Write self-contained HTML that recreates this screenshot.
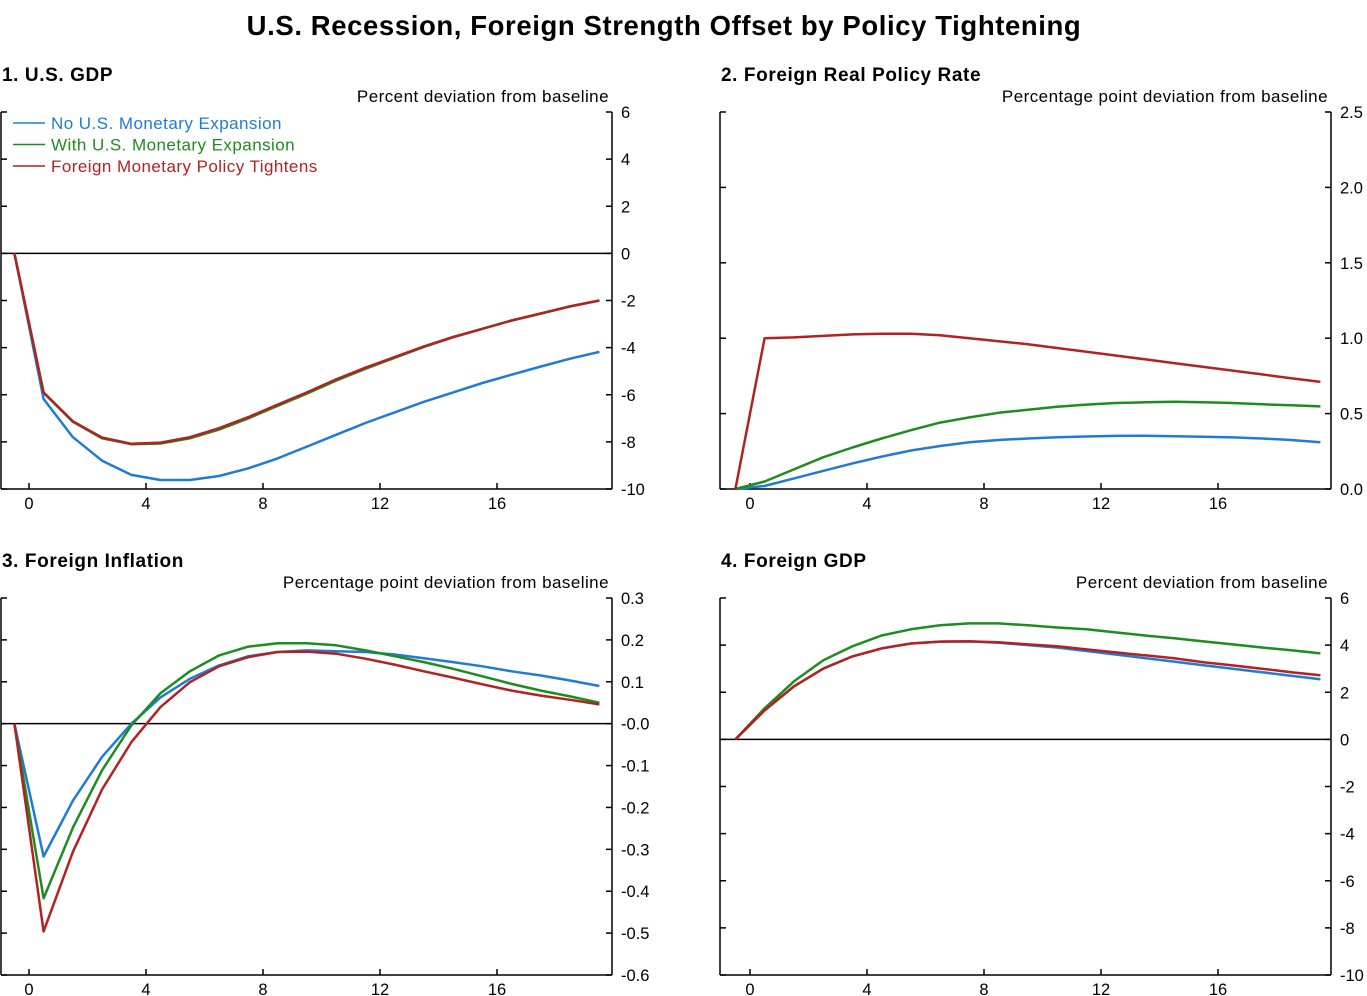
<!DOCTYPE html>
<html><head><meta charset="utf-8"><style>
html,body{margin:0;padding:0;background:#fff;}
svg{display:block;font-family:"Liberation Sans",Arial,sans-serif;}
</style></head><body>
<svg id="chart" width="1367" height="996" viewBox="0 0 1367 996">
<text x="664" y="35" text-anchor="middle" font-size="27.5" font-weight="bold" letter-spacing="0.6">U.S. Recession, Foreign Strength Offset by Policy Tightening</text>
</svg>
<script>
const periods = [-0.5,0.5,1.5,2.5,3.5,4.5,5.5,6.5,7.5,8.5,9.5,10.5,11.5,12.5,13.5,14.5,15.5,16.5,17.5,18.5,19.5];
const xTicks = [0,4,8,12,16];
const seriesNames = ["No U.S. Monetary Expansion","With U.S. Monetary Expansion","Foreign Monetary Policy Tightens"];
const seriesColors = ["#1f7bd6","#1e8c1e","#b22222"];

const gdpUS_blue = [0,-6.18,-7.8,-8.8,-9.4,-9.62,-9.62,-9.45,-9.12,-8.7,-8.2,-7.7,-7.2,-6.75,-6.3,-5.9,-5.5,-5.15,-4.8,-4.47,-4.18];
const gdpUS_green = [0,-5.92,-7.15,-7.85,-8.1,-8.07,-7.85,-7.48,-7.0,-6.47,-5.95,-5.4,-4.9,-4.43,-3.97,-3.56,-3.2,-2.85,-2.55,-2.25,-2.0];
const gdpUS_red = [0,-5.9,-7.13,-7.82,-8.08,-8.03,-7.8,-7.42,-6.95,-6.42,-5.9,-5.35,-4.85,-4.4,-3.95,-3.55,-3.2,-2.85,-2.55,-2.25,-2.0];

const rate_blue = [0,0.02,0.07,0.12,0.17,0.215,0.255,0.285,0.31,0.325,0.335,0.343,0.348,0.352,0.353,0.35,0.346,0.342,0.335,0.325,0.31];
const rate_green = [0,0.05,0.13,0.21,0.275,0.335,0.39,0.44,0.475,0.505,0.525,0.545,0.56,0.57,0.575,0.578,0.575,0.57,0.562,0.555,0.548];
const rate_red = [0,1.0,1.005,1.015,1.025,1.03,1.03,1.02,1.0,0.98,0.96,0.935,0.91,0.885,0.86,0.835,0.81,0.785,0.76,0.735,0.71];

const infl_blue = [0,-0.317,-0.184,-0.079,0.0,0.063,0.107,0.139,0.161,0.171,0.175,0.173,0.171,0.165,0.156,0.147,0.137,0.125,0.115,0.103,0.09];
const infl_green = [0,-0.417,-0.248,-0.111,-0.004,0.073,0.125,0.163,0.184,0.192,0.192,0.187,0.175,0.161,0.147,0.131,0.113,0.095,0.079,0.065,0.05];
const infl_red = [0,-0.496,-0.306,-0.157,-0.044,0.04,0.099,0.137,0.159,0.171,0.172,0.167,0.155,0.141,0.125,0.11,0.094,0.079,0.067,0.057,0.046];

const gdpF_blue = [0,1.23,2.25,3.0,3.52,3.86,4.07,4.15,4.16,4.1,4.0,3.9,3.75,3.6,3.45,3.3,3.15,3.0,2.85,2.7,2.55];
const gdpF_green = [0,1.32,2.46,3.35,3.95,4.41,4.67,4.84,4.92,4.92,4.84,4.75,4.67,4.54,4.41,4.29,4.16,4.03,3.9,3.78,3.65];
const gdpF_red = [0,1.23,2.25,3.0,3.52,3.86,4.07,4.15,4.16,4.12,4.03,3.95,3.82,3.69,3.57,3.44,3.27,3.14,3.0,2.85,2.72];

const ticksP1 = [6,4,2,0,-2,-4,-6,-8,-10];
const labelsP1 = ["6","4","2","0","-2","-4","-6","-8","-10"];
const ticksP2 = [2.5,2.0,1.5,1.0,0.5,0.0];
const labelsP2 = ["2.5","2.0","1.5","1.0","0.5","0.0"];
const ticksP3 = [0.3,0.2,0.1,0,-0.1,-0.2,-0.3,-0.4,-0.5,-0.6];
const labelsP3 = ["0.3","0.2","0.1","-0.0","-0.1","-0.2","-0.3","-0.4","-0.5","-0.6"];
const ticksP4 = [6,4,2,0,-2,-4,-6,-8,-10];
const labelsP4 = ["6","4","2","0","-2","-4","-6","-8","-10"];

const NS="http://www.w3.org/2000/svg";
const svg=document.getElementById('chart');
function mk(tag,attrs,parent){const e=document.createElementNS(NS,tag);for(const k in attrs)e.setAttribute(k,attrs[k]);(parent||svg).appendChild(e);return e;}

function panel(cfg){
  const g=mk('g',{});
  
  
  const L=cfg.left,R=cfg.right,T=cfg.top,B=cfg.bottom;
  const xs=t=>cfg.zeroX+t*29.25;
  const ys=v=>B-(v-cfg.min)/(cfg.max-cfg.min)*(B-T);
  const title=mk('text',{x:L+1,y:T-31,'font-size':19,'font-weight':'bold','letter-spacing':0.6},g);
  title.textContent=cfg.title;
  
  
  const unit=mk('text',{x:R-3,y:T-10,'font-size':17,'text-anchor':'end','letter-spacing':0.45},g);
  unit.textContent=cfg.unit;
  
  
  mk('line',{x1:L,y1:T,x2:L,y2:B,stroke:'#000','stroke-width':1.5},g);
  mk('line',{x1:R,y1:T,x2:R,y2:B,stroke:'#000','stroke-width':1.5},g);
  mk('line',{x1:L,y1:B,x2:R,y2:B,stroke:'#000','stroke-width':1.5},g);
  cfg.ticks.forEach((v,i)=>{
    const y=ys(v);
    mk('line',{x1:L,y1:y,x2:L+6,y2:y,stroke:'#000','stroke-width':1.5},g);
    mk('line',{x1:R-6,y1:y,x2:R,y2:y,stroke:'#000','stroke-width':1.5},g);
    const t=mk('text',{x:R+9,y:y+6,'font-size':16.5},g);
    t.textContent=cfg.labels[i];
    
    
  });
  xTicks.forEach(v=>{
    const x=xs(v);
    mk('line',{x1:x,y1:B,x2:x,y2:B-6,stroke:'#000','stroke-width':1.5},g);
    const t=mk('text',{x:x,y:B+20,'font-size':16.5,'text-anchor':'middle'},g);
    t.textContent=String(v);
    
    
  });
  if(cfg.min<0&&cfg.max>0){
    const z=mk('line',{x1:L,y1:ys(0),x2:R,y2:ys(0),stroke:'#000','stroke-width':1.5},g);
    
    
  }
  cfg.series.forEach((s,k)=>{
    const pts=s.map((v,i)=>xs(periods[i]).toFixed(1)+','+ys(v).toFixed(1)).join(' ');
    const p=mk('polyline',{points:pts,fill:'none',stroke:seriesColors[k],'stroke-width':2.5,'stroke-linejoin':'round'},g);
    
    
  });
}
panel({name:'panel-us-gdp',title:'1. U.S. GDP',unit:'Percent deviation from baseline',left:1,right:612,top:112,bottom:489,zeroX:29,min:-10,max:6,ticks:ticksP1,labels:labelsP1,series:[gdpUS_blue,gdpUS_green,gdpUS_red]});
panel({name:'panel-foreign-policy-rate',title:'2. Foreign Real Policy Rate',unit:'Percentage point deviation from baseline',left:720,right:1331,top:112,bottom:489,zeroX:750,min:0,max:2.5,ticks:ticksP2,labels:labelsP2,series:[rate_blue,rate_green,rate_red]});
panel({name:'panel-foreign-inflation',title:'3. Foreign Inflation',unit:'Percentage point deviation from baseline',left:1,right:612,top:598,bottom:975,zeroX:29,min:-0.6,max:0.3,ticks:ticksP3,labels:labelsP3,series:[infl_blue,infl_green,infl_red]});
panel({name:'panel-foreign-gdp',title:'4. Foreign GDP',unit:'Percent deviation from baseline',left:720,right:1331,top:598,bottom:975,zeroX:750,min:-10,max:6,ticks:ticksP4,labels:labelsP4,series:[gdpF_blue,gdpF_green,gdpF_red]});

const lg=mk('g',{});


seriesNames.forEach((n,k)=>{
  const y=123+k*21.5;
  mk('line',{x1:13,y1:y,x2:45,y2:y,stroke:seriesColors[k],'stroke-width':1.5},lg);
  const t=mk('text',{x:51,y:y+6,'font-size':17,fill:seriesColors[k],'letter-spacing':0.45},lg);
  t.textContent=n;
  
  
});
</script>
</body></html>
